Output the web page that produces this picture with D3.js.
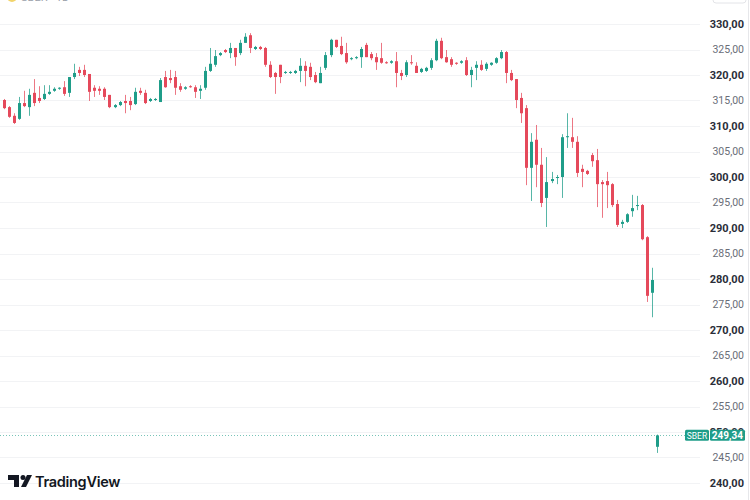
<!DOCTYPE html>
<html lang="ru">
<head>
<meta charset="UTF-8">
<title>SBER</title>
<script src="https://cdn.jsdelivr.net/npm/d3@7"></script>
<style>
  body { margin: 0; background: #fff; }
  svg { display: block; }
</style>
</head>
<body>
<script>
// размеры
var width = 750, height = 500;

// данные свечей (O, H, L, C)
var opens  = [315.1,313.7,312.0,311.4,314.5,313.7,316.5,315.5,315.3,316.3,316.9,317.3,317.6,316.5,319.6,321.0,321.0,320.2,317.5,317.3,
              317.3,316.1,313.7,314.1,314.9,314.9,314.3,316.9,316.5,314.9,315.1,314.7,319.6,319.4,319.6,317.8,317.3,317.8,317.6,316.9,
              317.5,320.8,322.0,323.9,324.9,324.3,325.3,324.3,326.3,327.8,325.1,325.5,325.3,322.0,320.4,322.0,320.4,320.4,320.4,320.8,
              321.8,321.6,320.0,318.4,321.4,323.9,326.9,325.7,324.3,323.1,323.3,323.5,325.9,324.1,323.5,323.3,322.5,322.4,322.7,320.4,
              320.0,322.5,321.8,320.6,320.8,321.4,322.9,326.7,323.5,323.1,322.4,322.4,322.9,320.0,321.4,322.0,321.2,322.0,322.4,323.3,
              324.5,320.4,319.2,315.5,313.5,301.8,307.3,302.4,295.9,299.2,299.8,300.0,307.8,307.8,306.9,301.6,301.2,304.3,303.3,299.0,
              299.2,298.6,294.7,290.8,291.2,293.3,294.3,294.5,288.2,277.3,247.1];
var highs  = [315.3,313.9,312.5,315.7,316.9,317.3,319.2,317.8,318.0,318.0,317.6,317.6,318.8,319.6,322.2,321.6,322.0,320.2,318.0,317.8,
              317.6,316.1,314.3,314.9,316.1,315.7,317.5,317.5,317.1,315.5,315.5,319.4,320.8,321.0,320.8,318.4,317.8,318.0,318.0,318.0,
              321.6,325.3,324.9,324.5,325.1,326.3,325.3,326.9,328.2,328.2,325.7,325.7,325.5,322.7,320.6,322.0,320.8,320.8,321.0,323.3,
              322.7,322.4,320.6,321.6,324.5,327.1,326.9,327.5,326.3,323.5,323.7,325.5,326.3,324.5,324.3,326.3,322.7,322.9,324.5,321.0,
              322.9,323.9,322.5,321.4,321.6,323.3,327.1,327.3,324.9,323.5,322.5,322.9,323.5,321.6,322.7,322.9,322.5,322.5,323.5,324.9,
              324.7,321.0,319.2,316.5,314.1,308.6,310.2,305.7,303.9,301.0,300.4,308.4,312.5,311.6,308.0,302.4,301.4,304.7,305.5,299.4,
              301.0,298.8,295.5,291.6,292.9,296.5,296.3,294.7,288.4,282.2,249.5];
var lows   = [313.3,311.6,310.4,311.2,313.7,312.0,313.9,314.5,315.1,316.1,316.7,317.1,315.9,315.7,319.2,319.8,319.6,314.9,315.7,316.1,
              315.1,313.5,313.5,313.9,312.5,313.1,314.1,316.1,314.3,314.7,314.9,314.7,317.5,318.4,316.1,316.7,317.1,317.5,315.5,315.3,
              317.1,320.6,321.6,323.7,324.3,323.3,321.8,323.9,326.3,324.3,324.9,324.9,321.6,319.4,316.3,318.4,320.2,320.2,320.2,318.6,
              317.8,319.0,318.4,318.4,321.0,323.5,325.3,323.9,322.2,322.9,323.1,321.4,323.5,322.9,321.0,322.2,322.2,322.2,317.6,319.0,
              319.6,322.0,320.4,320.4,320.6,321.0,322.7,323.1,322.4,321.6,322.0,322.2,319.8,317.6,319.0,320.8,320.8,321.8,322.2,323.1,
              318.4,318.8,313.5,310.6,298.4,295.3,298.0,294.1,290.2,298.8,298.6,295.9,305.7,305.7,300.0,298.0,300.4,302.0,294.1,292.0,
              293.9,294.1,290.2,290.0,291.0,292.2,293.5,287.6,275.5,272.5,245.9];
var closes = [313.5,311.8,310.6,314.5,313.9,316.1,314.5,314.9,316.3,316.7,317.3,317.5,316.3,319.6,320.4,320.4,320.0,316.7,316.9,316.9,
              315.7,313.7,314.1,314.7,314.5,314.1,316.7,316.5,314.5,315.3,315.3,319.0,317.6,319.0,317.5,317.1,317.6,317.6,316.7,317.3,
              320.8,322.2,323.7,324.3,324.5,325.3,323.5,326.3,327.5,325.3,325.5,325.1,322.0,319.6,319.6,319.6,320.6,320.6,320.8,321.8,
              320.8,319.6,318.6,320.4,323.9,326.9,325.5,324.1,322.5,323.3,323.5,325.1,323.5,323.3,322.5,322.4,322.4,322.7,320.4,319.8,
              322.5,322.4,320.4,321.2,321.4,322.9,326.7,323.3,322.5,322.0,322.2,322.7,320.0,321.0,322.0,321.0,322.2,322.4,323.3,324.5,
              320.4,319.0,315.1,312.5,301.8,306.9,302.4,294.9,299.0,299.6,300.0,307.8,308.0,306.9,300.8,301.0,300.6,303.1,298.6,298.6,
              298.4,294.5,290.6,291.2,292.7,293.9,294.5,287.8,276.7,279.8,249.34];

// шкала цен
var priceTicks = [240,245,250,255,260,265,270,275,280,285,290,295,300,305,310,315,320,325,330];
var tickerName = "SBER";
var lastPrice = closes[closes.length - 1];

var upColor = "#1f9d89", downColor = "#e5495b";

var svg = d3.select("body").append("svg")
    .attr("width", width).attr("height", height);

var x = d3.scalePoint()
    .domain(d3.range(closes.length))
    .range([4, 657]);

var y = d3.scaleLinear()
    .domain([240, 330])
    .range([483, 24]);

// сетка
svg.append("g").selectAll("line")
    .data(priceTicks).enter().append("line")
    .attr("x1", 0).attr("x2", 700)
    .attr("y1", function(d){ return Math.round(y(d)) + 0.5; })
    .attr("y2", function(d){ return Math.round(y(d)) + 0.5; })
    .attr("stroke", "#f2f3f5");

// правая граница шкалы
svg.append("line")
    .attr("x1", 748.5).attr("x2", 748.5).attr("y1", 0).attr("y2", height)
    .attr("stroke", "#e6e7ea");

// обрезанная легенда сверху
svg.append("circle").attr("cx", 12).attr("cy", -3).attr("r", 5).attr("fill", "#f2d46b");
svg.append("text").attr("x", 21).attr("y", 1).attr("font-family", "Roboto").attr("font-size", 11)
    .attr("fill", "#9aa0aa").text("SBER · 1D");
svg.append("rect").attr("x", 713).attr("y", -8).attr("width", 33).attr("height", 11).attr("rx", 3)
    .attr("fill", "none").attr("stroke", "#e3e4e8");

// подписи шкалы
var axis = d3.axisRight(y)
    .tickValues(priceTicks)
    .tickSize(0)
    .tickPadding(0)
    .tickFormat(function(d){ return d3.format(".2f")(d).replace(".", ","); });

var axisG = svg.append("g")
    .attr("transform", "translate(744,0)")
    .call(axis);
axisG.select(".domain").remove();
axisG.selectAll("text")
    .attr("text-anchor", "end")
    .attr("font-family", "Roboto, sans-serif")
    .attr("font-size", function(d){ return d % 10 === 0 ? 11 : 10.5; })
    .attr("font-weight", function(d){ return d % 10 === 0 ? 700 : 400; })
    .attr("fill", function(d){ return d % 10 === 0 ? "#2a2e39" : "#6a6d78"; });

// линия последней цены
svg.append("line")
    .attr("x1", 0).attr("x2", 685)
    .attr("y1", Math.round(y(lastPrice)) + 0.5).attr("y2", Math.round(y(lastPrice)) + 0.5)
    .attr("stroke", upColor).attr("stroke-opacity", 0.6)
    .attr("stroke-dasharray", "1,2");

// свечи
var candles = svg.append("g").selectAll("g")
    .data(d3.range(closes.length)).enter().append("g");

candles.append("line")
    .attr("x1", function(i){ return Math.round(x(i)) + 0.5; })
    .attr("x2", function(i){ return Math.round(x(i)) + 0.5; })
    .attr("y1", function(i){ return y(highs[i]); })
    .attr("y2", function(i){ return y(lows[i]); })
    .attr("stroke", function(i){ return closes[i] >= opens[i] ? upColor : downColor; })
    .attr("stroke-opacity", 0.75);

candles.append("rect")
    .attr("x", function(i){ return Math.round(x(i)) - 1; })
    .attr("width", 3)
    .attr("y", function(i){ return y(Math.max(opens[i], closes[i])); })
    .attr("height", function(i){ return Math.max(1, Math.abs(y(opens[i]) - y(closes[i]))); })
    .attr("fill", function(i){ return closes[i] >= opens[i] ? upColor : downColor; });

// метка тикера и цены
var tagY = y(lastPrice);
var tag = svg.append("g");
tag.append("rect").attr("x", 685).attr("y", tagY - 5.5).attr("width", 24).attr("height", 11)
    .attr("rx", 1.5).attr("fill", upColor);
tag.append("rect").attr("x", 710).attr("y", tagY - 5.5).attr("width", 35).attr("height", 11)
    .attr("rx", 1.5).attr("fill", upColor);
tag.append("text").attr("x", 697).attr("y", tagY + 3.5).attr("text-anchor", "middle")
    .attr("font-family", "Roboto, sans-serif").attr("font-size", 8.5).attr("fill", "#fff")
    .text(tickerName);
tag.append("text").attr("x", 743).attr("y", tagY + 3.5).attr("text-anchor", "end")
    .attr("font-family", "Roboto, sans-serif").attr("font-size", 10).attr("font-weight", 700).attr("fill", "#fff")
    .text(d3.format(".2f")(lastPrice).replace(".", ","));

// логотип TradingView
var logo = svg.append("g").attr("fill", "#131722");
logo.append("path").attr("d", "M8,475 H19 V487 H14 V480 H8 Z");
logo.append("circle").attr("cx", 23).attr("cy", 477.5).attr("r", 2.5);
logo.append("path").attr("d", "M27,475 H32 L26,487 H21 Z");
logo.append("text").attr("x", 35).attr("y", 487)
    .attr("font-family", "Inter, 'Open Sans', sans-serif").attr("font-size", 14.5).attr("font-weight", 600)
    .attr("letter-spacing", -0.3)
    .text("TradingView");
</script>
</body>
</html>
